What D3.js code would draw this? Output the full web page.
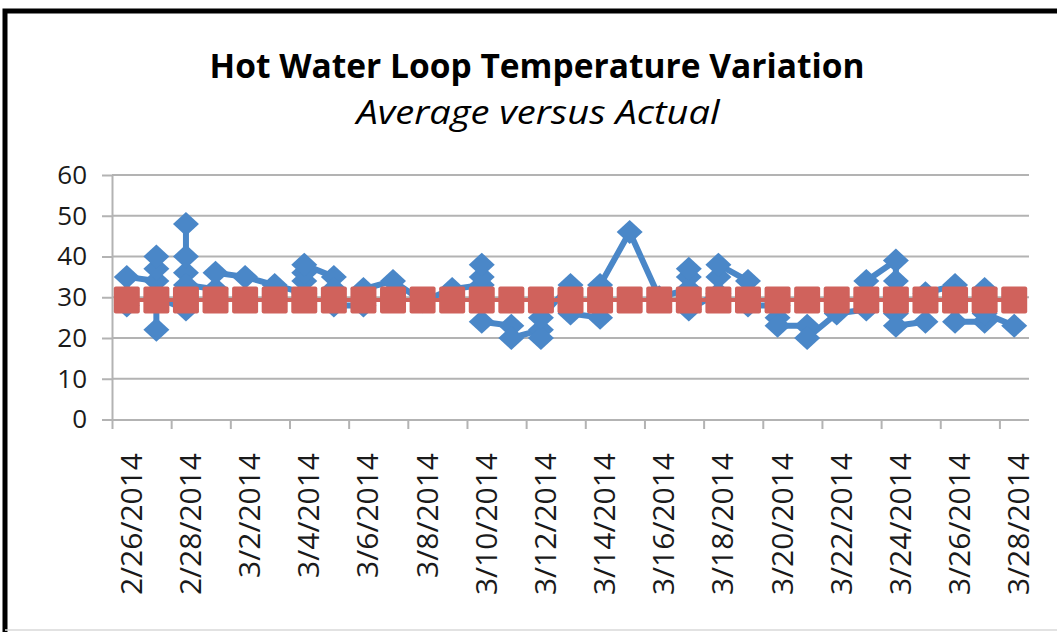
<!DOCTYPE html>
<html>
<head>
<meta charset="utf-8">
<script src="https://cdn.jsdelivr.net/npm/d3@7/dist/d3.min.js"></script>
<style>
  body { margin: 0; background: #fff; }
  svg { display: block; font-family: "Open Sans", sans-serif; }
</style>
</head>
<body>
<svg id="chart" width="1057" height="632"></svg>
<script>
// one label per day, 2/26/2014 .. 3/28/2014
var days = ['2/26/2014', '2/27/2014', '2/28/2014', '3/1/2014', '3/2/2014', '3/3/2014', '3/4/2014',
  '3/5/2014', '3/6/2014', '3/7/2014', '3/8/2014', '3/9/2014', '3/10/2014', '3/11/2014', '3/12/2014',
  '3/13/2014', '3/14/2014', '3/15/2014', '3/16/2014', '3/17/2014', '3/18/2014', '3/19/2014',
  '3/20/2014', '3/21/2014', '3/22/2014', '3/23/2014', '3/24/2014', '3/25/2014', '3/26/2014',
  '3/27/2014', '3/28/2014'];

// actual readings, several per day, in the order they were logged
var actual = [
  [28, 35], [34, 37, 40, 22, 30], [27, 36, 40, 48, 33], [32, 36], [35], [33],
  [31, 34, 36, 38], [35, 32, 28], [28, 32], [34], [29], [32], [33, 35, 38, 24],
  [23, 20], [22, 20, 25], [33, 26], [25, 33], [46], [30], [32, 35, 37, 27],
  [31, 35, 38], [34, 28], [28, 25, 23], [23, 20], [26], [27, 34], [39, 34, 26, 23],
  [24, 31], [33, 28, 24], [24, 32, 26], [23]
];

// average temperature per day
var average = [29.3, 29.3, 29.3, 29.3, 29.3, 29.3, 29.3, 29.3, 29.3, 29.3, 29.3, 29.3, 29.3,
  29.3, 29.3, 29.3, 29.3, 29.3, 29.3, 29.3, 29.3, 29.3, 29.3, 29.3, 29.3, 29.3, 29.3, 29.3,
  29.3, 29.3, 29.3];

var yTicks = [0, 10, 20, 30, 40, 50, 60];

var parse = d3.timeParse('%m/%d/%Y'),
    fmt = d3.timeFormat('%-m/%-d/%Y');
var dates = days.map(parse);

var blue = '#4a87c8',
    red = '#d0625c',
    grid = '#b3b3b3';

var svg = d3.select('#chart');

var x = d3.scaleTime()
    .domain([dates[0], d3.timeDay.offset(dates[dates.length - 1], 1)])
    .range([112, 1029]),
  y = d3.scaleLinear()
    .domain([0, 60])
    .range([419.5, 175]);

var mid = function(d) { return x(d3.timeHour.offset(d, 12)); };
var halfDay = (x(dates[1]) - x(dates[0])) / 2;

// frame
svg.append('path')
  .attr('d', 'M5,640 L5,11 L1070,11')
  .attr('fill', 'none')
  .attr('stroke', '#000')
  .attr('stroke-width', 5);
svg.append('line')
  .attr('x1', 5).attr('x2', 1057).attr('y1', 630).attr('y2', 630)
  .attr('stroke', '#d8d8d8').attr('stroke-width', 1.5);

// title
svg.append('text')
  .attr('x', 537).attr('y', 78)
  .attr('text-anchor', 'middle')
  .attr('textLength', 655).attr('lengthAdjust', 'spacingAndGlyphs')
  .style('font-size', '34px').style('font-weight', 'bold')
  .text('Hot Water Loop Temperature Variation');

svg.append('text')
  .attr('x', 538).attr('y', 124)
  .attr('text-anchor', 'middle')
  .attr('textLength', 363).attr('lengthAdjust', 'spacingAndGlyphs')
  .style('font-size', '32px').style('font-style', 'italic')
  .text('Average versus Actual');

// gridlines
svg.append('g').selectAll('line')
  .data(yTicks.filter(function(t) { return t > 0; }))
  .enter().append('line')
  .attr('x1', 112).attr('x2', 1029)
  .attr('y1', function(d) { return y(d); })
  .attr('y2', function(d) { return y(d); })
  .attr('stroke', grid).attr('stroke-width', 2);

// y axis
var leftAxis = d3.axisLeft(y).tickValues(yTicks).tickSize(10).tickPadding(15).tickSizeOuter(0);
var gy = svg.append('g').attr('transform', 'translate(112,0)').call(leftAxis);
gy.selectAll('path, line').attr('stroke', grid).attr('stroke-width', 2);
gy.selectAll('text').style('font-size', '26px').style('font-family', '"Open Sans", sans-serif')
  .attr('fill', '#1a1a1a');

// x axis: ticks on slot boundaries every 2 days, labels centred in the day slot
var tickDates = dates.filter(function(d, i) { return i % 2 === 0; });
var bottomAxis = d3.axisBottom(x).tickValues(tickDates).tickFormat(fmt).tickSize(9).tickSizeOuter(0);
var gx = svg.append('g').attr('transform', 'translate(0,420)').call(bottomAxis);
gx.select('.domain').attr('d', 'M102,0H1029');
gx.selectAll('path, line').attr('stroke', grid).attr('stroke-width', 2);
gx.selectAll('text')
  .attr('y', null).attr('dy', '0.35em')
  .attr('text-anchor', 'end')
  .attr('transform', 'translate(' + (halfDay + 4) + ',33) rotate(-90)')
  .style('font-size', '30px').style('font-family', '"Open Sans", sans-serif')
  .attr('fill', '#1a1a1a');

// actual series: flatten to points
var pts = [];
actual.forEach(function(vals, i) {
  vals.forEach(function(v) { pts.push({date: dates[i], value: v}); });
});

var line = d3.line()
  .x(function(d) { return mid(d.date); })
  .y(function(d) { return y(d.value); });

svg.append('path')
  .datum(pts)
  .attr('d', line)
  .attr('fill', 'none')
  .attr('stroke', blue)
  .attr('stroke-width', 6)
  .attr('stroke-linejoin', 'round');

var diamond = 'M0,-12 L13,0 L0,12 L-13,0 Z';
svg.append('g').selectAll('path')
  .data(pts).enter().append('path')
  .attr('d', diamond)
  .attr('transform', function(d) { return 'translate(' + mid(d.date) + ',' + y(d.value) + ')'; })
  .attr('fill', blue);

// average series
var avgPts = average.map(function(v, i) { return {date: dates[i], value: v}; });
svg.append('path')
  .datum(avgPts)
  .attr('d', line)
  .attr('fill', 'none')
  .attr('stroke', red)
  .attr('stroke-width', 4);

svg.append('g').selectAll('rect')
  .data(avgPts).enter().append('rect')
  .attr('x', function(d) { return mid(d.date) - 13; })
  .attr('y', function(d) { return y(d.value) - 13.5; })
  .attr('width', 26).attr('height', 27)
  .attr('rx', 2)
  .attr('fill', red);
</script>
</body>
</html>
